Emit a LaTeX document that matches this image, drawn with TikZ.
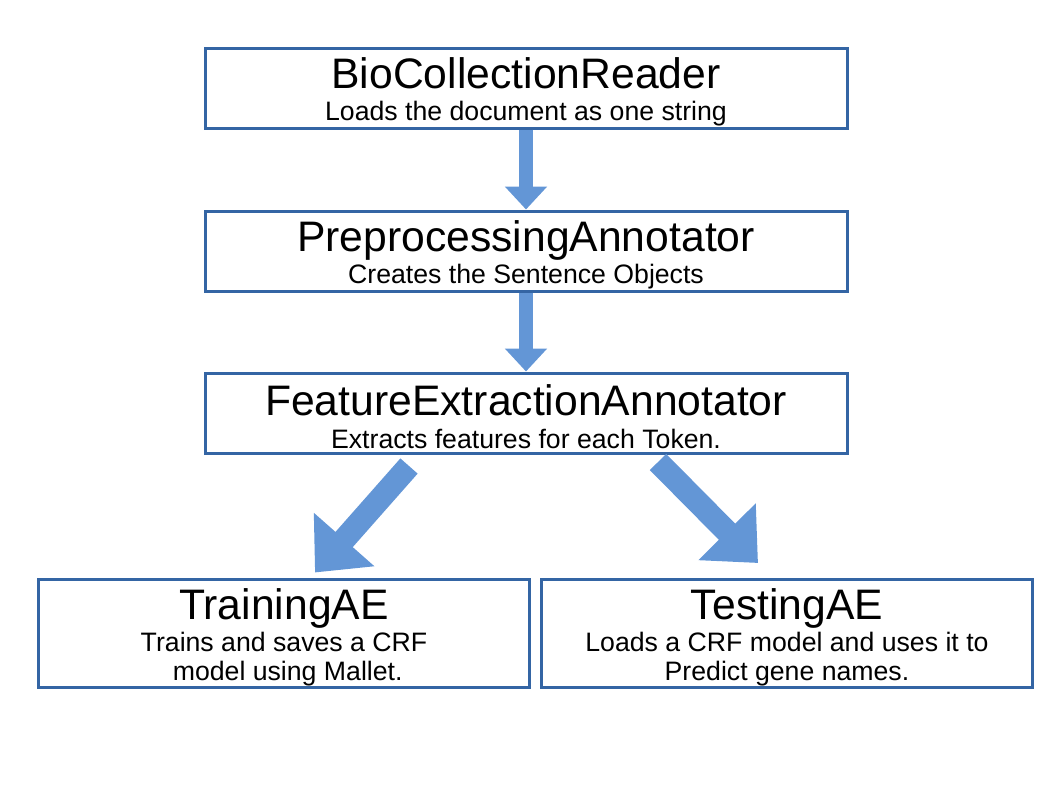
\documentclass[tikz,border=0pt]{standalone}
\usepackage{fontspec}
\setmainfont{Liberation Sans}
\usetikzlibrary{arrows.meta,calc}
\definecolor{boxblue}{HTML}{3465A4}
\definecolor{arrowblue}{HTML}{6396D6}
\newcommand{\stagename}[1]{{\fontsize{32}{36}\selectfont\rule{0pt}{29pt}#1}}

\begin{document}
\begin{tikzpicture}[
    x=0.75pt,
    y=0.75pt,
    font=\fontsize{20}{24.4}\selectfont,
    stage/.style={rectangle, draw=boxblue, line width=2.25pt, align=center, fill=white, inner sep=0pt, minimum width=481.5pt, minimum height=60pt},
    leaf/.style={stage, minimum width=368pt, minimum height=81pt},
    flow/.style={-{Triangle[width=30.75pt 0, length=17.25pt 0]}, line width=10.5pt, draw=arrowblue},
    split/.style={-{Triangle[width=58.5pt 0, length=33pt 0]}, line width=17.25pt, draw=arrowblue}
  ]
    \useasboundingbox (0,0) rectangle (1058,-794);

    \node[stage] (reader) at (526,-88) {\stagename{BioCollectionReader}\\Loads the document as one string};
    \node[stage] (preproc) at (526,-251) {\stagename{PreprocessingAnnotator}\\Creates the Sentence Objects};
    \node[stage] (feature) at (526,-413) {\stagename{FeatureExtractionAnnotator}\\Extracts features for each Token.};
    \node[leaf] (training) at (284,-633) {\stagename{TrainingAE}\\Trains and saves a CRF\\[-3pt] \ model using Mallet.};
    \node[leaf] (testing) at (787,-633) {\stagename{TestingAE}\\Loads a CRF model and uses it to\\[-3pt]Predict gene names.};

    \draw[flow] (reader) -- (preproc);
    \draw[flow] (preproc) -- (feature);
    \draw[split] ($(feature.south)+(-117,-11.5)$) -- ($(training.north)+(31,5)$);
    \draw[split] ($(feature.south)+(132,-7.5)$) -- ($(testing.north)+(-29,14.5)$);
  \end{tikzpicture}
\end{document}
